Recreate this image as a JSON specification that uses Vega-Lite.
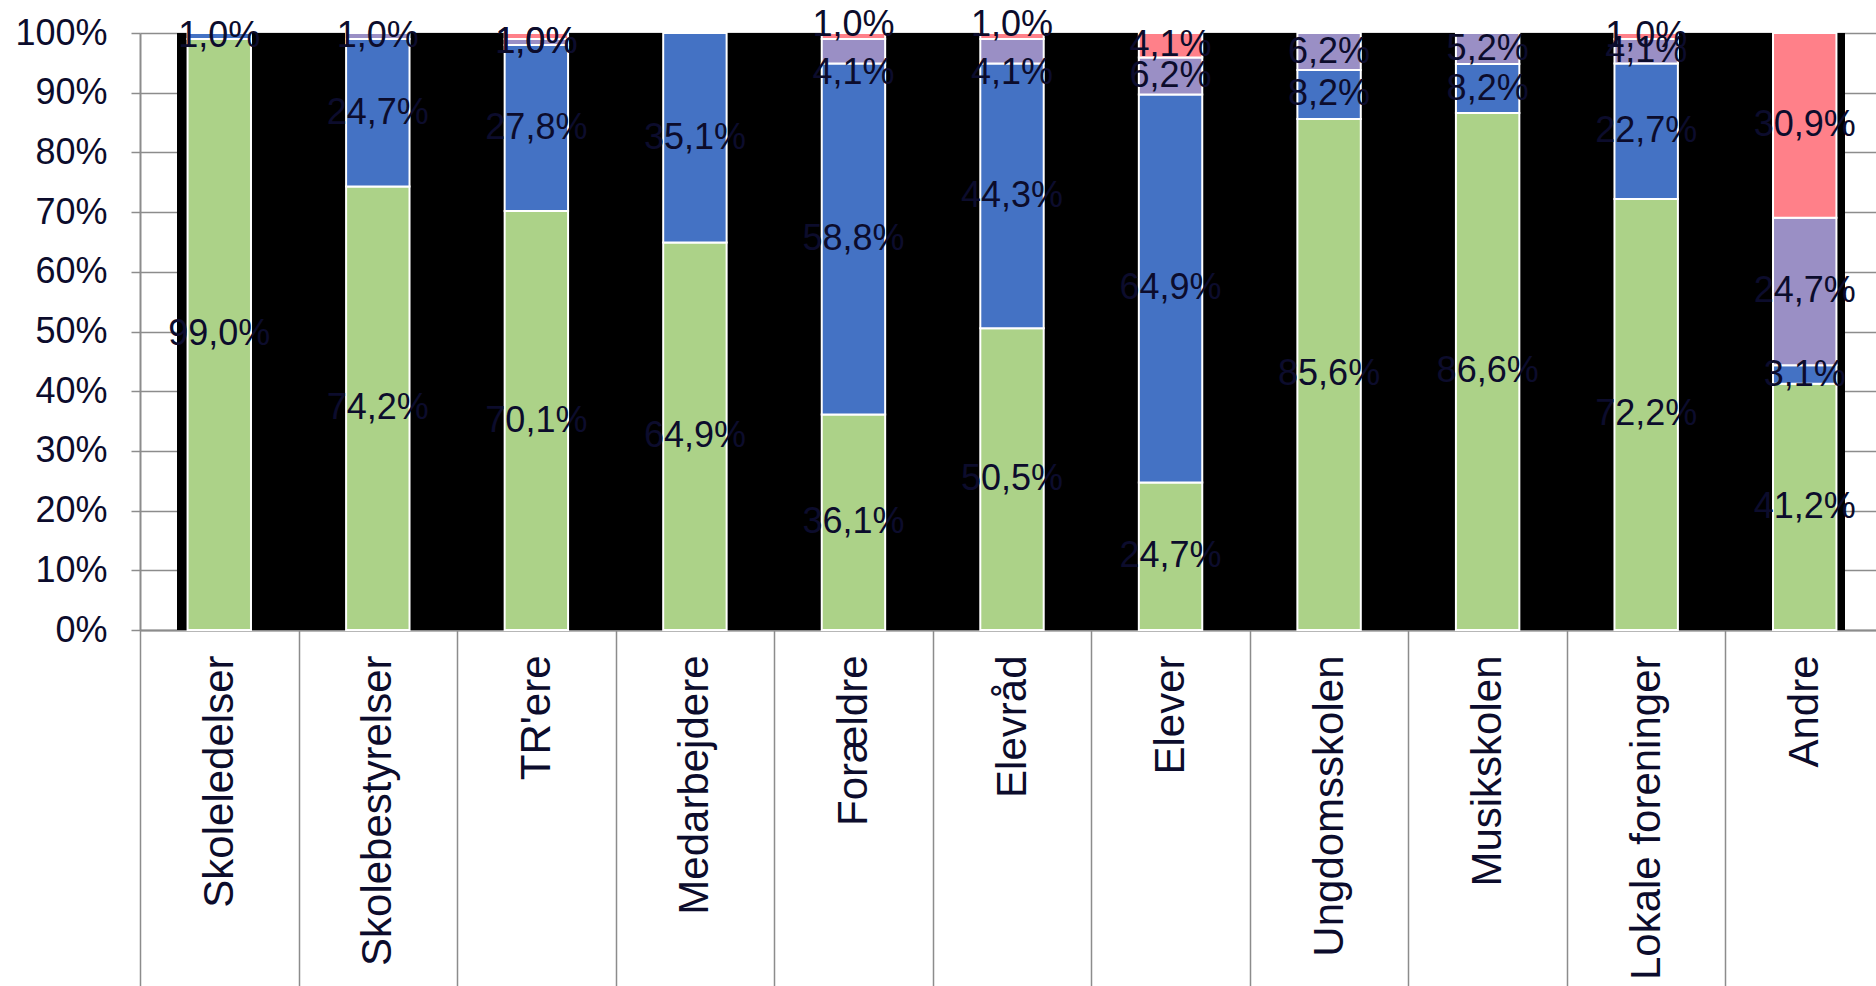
{
  "$schema": "https://vega.github.io/schema/vega-lite/v6.json",
  "width": 1668,
  "height": 597,
  "autosize": {"type": "none"},
  "padding": {"left": 177, "top": 33, "right": 31, "bottom": 356},
  "background": "white",
  "config": {
    "locale": {"number": {"decimal": ",", "thousands": ".", "grouping": [3], "currency": ["", " kr."]}},
    "view": {"stroke": null},
    "font": "Liberation Sans"
  },
  "data": {
    "values": [
      {"kategori": "Skoleledelser", "serie": "Serie 1", "andel": 0.990, "o": 1},
      {"kategori": "Skoleledelser", "serie": "Serie 2", "andel": 0.010, "o": 2},
      {"kategori": "Skolebestyrelser", "serie": "Serie 1", "andel": 0.742, "o": 1},
      {"kategori": "Skolebestyrelser", "serie": "Serie 2", "andel": 0.247, "o": 2},
      {"kategori": "Skolebestyrelser", "serie": "Serie 3", "andel": 0.010, "o": 3},
      {"kategori": "TR'ere", "serie": "Serie 1", "andel": 0.701, "o": 1},
      {"kategori": "TR'ere", "serie": "Serie 2", "andel": 0.278, "o": 2},
      {"kategori": "TR'ere", "serie": "Serie 3", "andel": 0.010, "o": 3},
      {"kategori": "TR'ere", "serie": "Serie 4", "andel": 0.010, "o": 4},
      {"kategori": "Medarbejdere", "serie": "Serie 1", "andel": 0.649, "o": 1},
      {"kategori": "Medarbejdere", "serie": "Serie 2", "andel": 0.351, "o": 2},
      {"kategori": "Forældre", "serie": "Serie 1", "andel": 0.361, "o": 1},
      {"kategori": "Forældre", "serie": "Serie 2", "andel": 0.588, "o": 2},
      {"kategori": "Forældre", "serie": "Serie 3", "andel": 0.041, "o": 3},
      {"kategori": "Forældre", "serie": "Serie 4", "andel": 0.010, "o": 4},
      {"kategori": "Elevråd", "serie": "Serie 1", "andel": 0.505, "o": 1},
      {"kategori": "Elevråd", "serie": "Serie 2", "andel": 0.443, "o": 2},
      {"kategori": "Elevråd", "serie": "Serie 3", "andel": 0.041, "o": 3},
      {"kategori": "Elevråd", "serie": "Serie 4", "andel": 0.010, "o": 4},
      {"kategori": "Elever", "serie": "Serie 1", "andel": 0.247, "o": 1},
      {"kategori": "Elever", "serie": "Serie 2", "andel": 0.649, "o": 2},
      {"kategori": "Elever", "serie": "Serie 3", "andel": 0.062, "o": 3},
      {"kategori": "Elever", "serie": "Serie 4", "andel": 0.041, "o": 4},
      {"kategori": "Ungdomsskolen", "serie": "Serie 1", "andel": 0.856, "o": 1},
      {"kategori": "Ungdomsskolen", "serie": "Serie 2", "andel": 0.082, "o": 2},
      {"kategori": "Ungdomsskolen", "serie": "Serie 3", "andel": 0.062, "o": 3},
      {"kategori": "Musikskolen", "serie": "Serie 1", "andel": 0.866, "o": 1},
      {"kategori": "Musikskolen", "serie": "Serie 2", "andel": 0.082, "o": 2},
      {"kategori": "Musikskolen", "serie": "Serie 3", "andel": 0.052, "o": 3},
      {"kategori": "Lokale foreninger", "serie": "Serie 1", "andel": 0.722, "o": 1},
      {"kategori": "Lokale foreninger", "serie": "Serie 2", "andel": 0.227, "o": 2},
      {"kategori": "Lokale foreninger", "serie": "Serie 3", "andel": 0.041, "o": 3},
      {"kategori": "Lokale foreninger", "serie": "Serie 4", "andel": 0.010, "o": 4},
      {"kategori": "Andre", "serie": "Serie 1", "andel": 0.412, "o": 1},
      {"kategori": "Andre", "serie": "Serie 2", "andel": 0.031, "o": 2},
      {"kategori": "Andre", "serie": "Serie 3", "andel": 0.247, "o": 3},
      {"kategori": "Andre", "serie": "Serie 4", "andel": 0.309, "o": 4}
    ]
  },
  "layer": [
    {
      "data": {"values": [{}]},
      "mark": {"type": "rect", "color": "black"},
      "encoding": {}
    },
    {
      "mark": {"type": "bar", "stroke": "white", "strokeWidth": 2, "width": {"band": 0.4}},
      "encoding": {
        "x": {
          "field": "kategori", "type": "nominal", "sort": null,
          "scale": {"range": [-37, 1707], "paddingInner": 0, "paddingOuter": 0},
          "axis": {
            "title": null, "labelAngle": -90, "labelFontSize": 42, "labelColor": "#0c0c2c",
            "labelFont": "Liberation Sans", "labelLimit": 0, "labelOverlap": false,
            "tickBand": "extent", "tickSize": 360, "tickColor": "#8c8c8c", "tickWidth": 1.5,
            "domainColor": "#8c8c8c", "domainWidth": 2, "labelPadding": -335
          }
        },
        "y": {
          "field": "andel", "type": "quantitative", "stack": "normalize",
          "scale": {"domain": [0, 1]},
          "axis": {
            "title": null, "format": ".0%",
            "values": [0, 0.1, 0.2, 0.3, 0.4, 0.5, 0.6, 0.7, 0.8, 0.9, 1],
            "offset": 37, "labelFontSize": 36, "labelColor": "#0c0c2c", "labelFont": "Liberation Sans",
            "labelPadding": 24, "tickSize": 9, "tickColor": "#8c8c8c", "tickWidth": 1.5,
            "domainColor": "#8c8c8c", "domainWidth": 2,
            "grid": true, "gridColor": "#8c8c8c", "gridWidth": 1.5
          }
        },
        "color": {
          "field": "serie", "type": "nominal",
          "scale": {"domain": ["Serie 1", "Serie 2", "Serie 3", "Serie 4"], "range": ["#acd288", "#4472c4", "#9a8fc5", "#ff8089"]},
          "legend": null
        },
        "order": {"field": "o", "type": "quantitative"}
      }
    },
    {
      "mark": {"type": "text", "fontSize": 36, "color": "#0c0c2c", "font": "Liberation Sans", "baseline": "middle"},
      "encoding": {
        "x": {"field": "kategori", "type": "nominal", "sort": null},
        "y": {"field": "andel", "type": "quantitative", "stack": "normalize", "bandPosition": 0.5},
        "detail": {"field": "serie"},
        "order": {"field": "o", "type": "quantitative"},
        "text": {
          "field": "andel", "type": "quantitative", "format": ".1%",
          "condition": {"test": "((datum.kategori === 'Forældre' || datum.kategori === 'Elevråd') && datum.o >= 3) || (datum.kategori === \"TR'ere\" && datum.o === 4)", "value": ""}
        }
      }
    },
    {
      "transform": [
        {"stack": "andel", "groupby": ["kategori"], "sort": [{"field": "o", "order": "ascending"}], "offset": "normalize", "as": ["y0", "y1"]},
        {"filter": {"and": [{"field": "kategori", "oneOf": ["Forældre", "Elevråd"]}, {"field": "serie", "equal": "Serie 4"}]}}
      ],
      "mark": {"type": "text", "fontSize": 36, "color": "#0c0c2c", "font": "Liberation Sans", "baseline": "middle", "dy": -8},
      "encoding": {
        "x": {"field": "kategori", "type": "nominal", "sort": null},
        "y": {"field": "y1", "type": "quantitative", "title": null},
        "text": {"field": "andel", "type": "quantitative", "format": ".1%"}
      }
    },
    {
      "transform": [
        {"stack": "andel", "groupby": ["kategori"], "sort": [{"field": "o", "order": "ascending"}], "offset": "normalize", "as": ["y0", "y1"]},
        {"filter": {"and": [{"field": "kategori", "oneOf": ["Forældre", "Elevråd"]}, {"field": "serie", "equal": "Serie 3"}]}}
      ],
      "mark": {"type": "text", "fontSize": 36, "color": "#0c0c2c", "font": "Liberation Sans", "baseline": "middle", "dy": 34},
      "encoding": {
        "x": {"field": "kategori", "type": "nominal", "sort": null},
        "y": {"field": "y1", "type": "quantitative", "title": null},
        "text": {"field": "andel", "type": "quantitative", "format": ".1%"}
      }
    },
    {
      "transform": [
        {"stack": "andel", "groupby": ["kategori"], "sort": [{"field": "o", "order": "ascending"}], "offset": "normalize", "as": ["y0", "y1"]},
        {"filter": {"and": [{"field": "kategori", "equal": "TR'ere"}, {"field": "serie", "equal": "Serie 4"}]}}
      ],
      "mark": {"type": "text", "fontSize": 36, "color": "#0c0c2c", "font": "Liberation Sans", "baseline": "middle", "dy": 9},
      "encoding": {
        "x": {"field": "kategori", "type": "nominal", "sort": null},
        "y": {"field": "y1", "type": "quantitative", "title": null},
        "text": {"field": "andel", "type": "quantitative", "format": ".1%"}
      }
    }
  ]
}
